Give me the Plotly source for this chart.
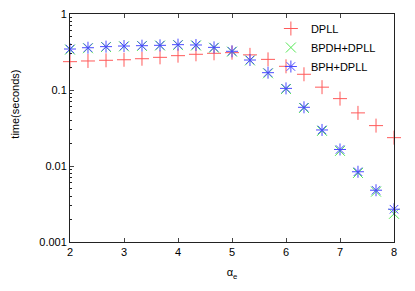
import plotly.graph_objects as go

alpha = [2, 2.333, 2.667, 3, 3.333, 3.667, 4, 4.333, 4.667, 5, 5.333, 5.667,
         6, 6.333, 6.667, 7, 7.333, 7.667, 8]
dpll = [0.236, 0.241, 0.246, 0.25, 0.258, 0.269, 0.283, 0.295, 0.304, 0.31,
        0.29, 0.253, 0.205, 0.161, 0.109, 0.077, 0.050, 0.034, 0.0236]
bpdh = [0.34, 0.355, 0.368, 0.375, 0.38, 0.385, 0.39, 0.385, 0.36, 0.32,
        0.245, 0.166, 0.103, 0.058, 0.029, 0.0158, 0.0081, 0.0046, 0.00235]
bph = [0.346, 0.36, 0.372, 0.379, 0.383, 0.387, 0.395, 0.391, 0.364, 0.323,
       0.248, 0.169, 0.105, 0.0592, 0.0298, 0.0165, 0.0084, 0.0048, 0.0027]

series_names = ["DPLL", "BPDH+DPLL", "BPH+DPLL"]
y_ticks = [0.001, 0.01, 0.1, 1]
y_ticktext = ["0.001", "0.01", "0.1", "1"]
x_ticks = [2, 3, 4, 5, 6, 7, 8]

FONT = "Liberation Sans, Arial, sans-serif"

fig = go.Figure()
fig.add_trace(go.Scatter(x=alpha, y=dpll, mode="markers", name=series_names[0],
                         cliponaxis=False,
                         marker=dict(symbol="cross-thin-open", size=10,
                                     color="#ff5a5a",
                                     line=dict(color="#ff5a5a", width=1))))
fig.add_trace(go.Scatter(x=alpha, y=bpdh, mode="markers", name=series_names[1],
                         cliponaxis=False,
                         marker=dict(symbol="x-thin-open", size=10,
                                     color="#55e855",
                                     line=dict(color="#55e855", width=1))))
fig.add_trace(go.Scatter(x=alpha, y=bph, mode="markers", name=series_names[2],
                         cliponaxis=False,
                         marker=dict(symbol="asterisk-open", size=10,
                                     color="#4a4aff",
                                     line=dict(color="#4a4aff", width=1))))

minor_vals = [m * 10 ** e for e in (-3, -2, -1) for m in range(2, 10)]

fig.update_layout(
    width=415, height=291,
    margin=dict(l=62, r=29, t=6, b=57),
    paper_bgcolor="white", plot_bgcolor="white",
    font=dict(family=FONT, size=11, color="black"),
    showlegend=True,
    legend=dict(x=0.62, y=1.0, xanchor="left", yanchor="top",
                bgcolor="rgba(0,0,0,0)", font=dict(size=11),
                itemwidth=30, tracegroupgap=0),
    xaxis=dict(range=[2, 8], tickvals=x_ticks, ticks="inside", ticklen=4,
               showline=True, linecolor="#222", linewidth=1, mirror="ticks",
               showgrid=False, zeroline=False, automargin=False,
               ticklabeloverflow="allow",
               title=dict(text="α<sub>e</sub>", standoff=11, font=dict(size=11))),
    yaxis=dict(type="log", range=[-3, 0], tickvals=y_ticks, ticktext=y_ticktext,
               ticks="inside", ticklen=4, showline=True, linecolor="#222",
               linewidth=1, mirror=True, showgrid=False, zeroline=False,
               automargin=False, ticklabeloverflow="allow",
               minor=dict(tickvals=minor_vals, ticks="inside", ticklen=2,
                          tickcolor="#222", showgrid=False)),
    annotations=[dict(text="time(seconds)", textangle=-90, xref="paper",
                      yref="paper", x=-0.171, y=0.605, xanchor="center",
                      yanchor="middle", showarrow=False, font=dict(size=11))],
)

fig.write_html("out.html")
